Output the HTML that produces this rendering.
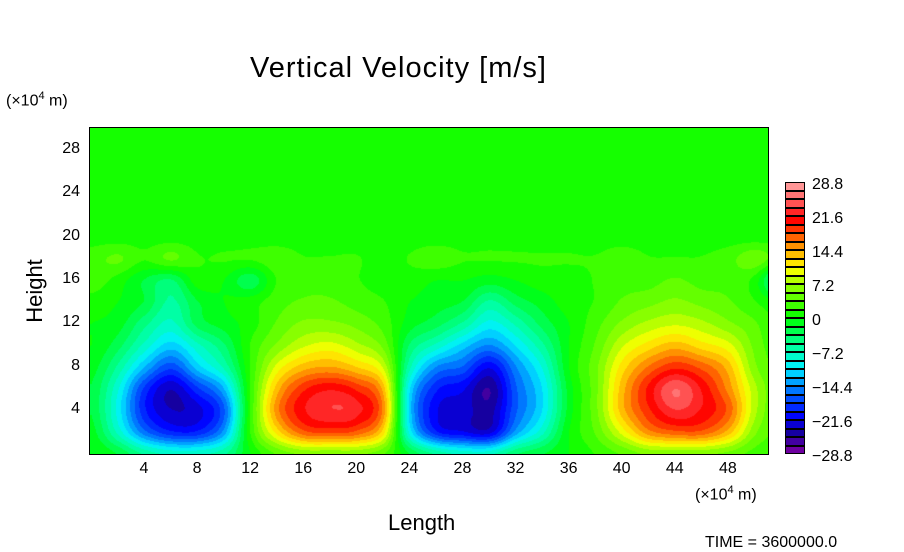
<!DOCTYPE html>
<html><head><meta charset="utf-8">
<style>
body{margin:0;background:#fff;width:904px;height:544px;overflow:hidden;position:relative;font-family:"Liberation Sans",sans-serif;}
.t{position:absolute;color:#000;white-space:nowrap;}
</style></head>
<body>
<div class="t" style="left:250px;top:52px;font-size:29px;letter-spacing:1px;">Vertical Velocity [m/s]</div>
<div class="t" style="left:6px;top:90px;font-size:16px;">(×10<sup style="font-size:11px">4</sup> m)</div>
<div class="t" style="left:2px;top:278px;font-size:22px;transform:rotate(-90deg);transform-origin:center;width:66px;text-align:center;">Height</div>
<div class="t" style="left:388px;top:510px;font-size:22px;">Length</div>
<div class="t" style="left:695px;top:484px;font-size:16px;">(×10<sup style="font-size:11px">4</sup> m)</div>
<div class="t" style="left:705px;top:534px;font-size:16px;">TIME = 3600000.0</div>
<canvas id="c" width="678" height="326" style="position:absolute;left:90px;top:128px;"></canvas>
<div style="position:absolute;left:89px;top:127px;width:678px;height:326px;border:1px solid #000;"></div>
<div id="ticks"></div>
<div id="cbar"></div>
<script>
const xTicks=[4,8,12,16,20,24,28,32,36,40,44,48];
const yTicks=[4,8,12,16,20,24,28];
const cbLabels=["28.8","21.6","14.4","7.2","0","\u22127.2","\u221214.4","\u221221.6","\u221228.8"];
const gridX=[0,2,4,6,8,10,12,14,16,18,20,22,24,26,28,30,32,34,36,38,40,42,44,46,48,50,52];
const gridY=[0,2,4,6,8,10,12,14,16,18,20,22,24,26,28,30];
const row0=[0,-2,-6,-8,-8,-6,0,4,6,6,6,4,-2,-6,-8,-8,-4,-2,0,2,4,6,6,6,5,3,2];
const row2=[-1,-8,-16,-20,-20,-14,2,12,18,19,18,12,-10,-20,-22,-23,-14,-8,0,4,10,16,18,18,14,6,3];
const row4=[-2,-10,-20,-24,-23,-17,2,16,22,24,23,16,-12,-22,-23,-25,-17,-11,-1,5,14,20,24,22,18,8,3];
const row6=[-2,-9,-19,-24,-19,-13,2,14,20,22,20,14,-11,-20,-22,-26,-17,-11,-1,5,14,21,26,22,16,8,3];
const row8=[-1,-6,-13,-18,-12,-7,2,10,14,15,13,9,-7,-15,-17,-22,-15,-9,0,5,12,17,20,18,14,6,3];
const row10=[0,-3,-8,-12,-8,-4,2,6,9,10,8,5,-4,-8,-12,-15,-11,-6,0,4,9,12,14,12,10,5,2];
const row12=[0,-1,-5,-8,-3,-1,1,4,6,6,5,3,-1,-3,-6,-10,-7,-3,0,3,6,8,9,8,6,4,1];
const row14=[1,0,-2,-6,-2,0,1,3,4,4,3,2,0,-1,-2,-6,-3,-1,1,2,4,5,6,5,4,2,0];
const row16=[3,1,-2,-4,1,0,-3,2,3,3,2,1,1,0,0,-1,0,1,1,2,3,3,4,3,3,1,-8];
const row18=[3,4,2,4,2,2,2,3,2,2,2,1,2,3,2,2,2,2,2,2,3,2,2,2,3,5,2];
const row20=[1,1,1,1,1,1,1,1,1,1,1,1,1,1,1,1,1,1,1,1,1,1,1,1,1,1,1];
const rows=[row0,row2,row4,row6,row8,row10,row12,row14,row16,row18,row20,row20,row20,row20,row20,row20];

const X0=90.9,PXU=13.27,Y0=453.3,PYU=10.83;
const sx=v=>X0+v*PXU, sy=v=>Y0-v*PYU;
const stops=[[-28.8,110,0,160],[-25,20,0,160],[-21.6,0,0,255],[-18,0,70,255],[-14.4,0,150,255],[-10.8,0,240,255],[-7.2,0,255,180],[-3.6,0,255,100],[0,0,255,0],[3.6,80,255,0],[7.2,150,255,0],[10.8,255,255,0],[14.4,255,180,0],[18,255,90,0],[21.6,255,0,0],[25,255,80,80],[28.8,255,150,150]];
function col(v){v=Math.max(-28.8,Math.min(28.8,v));for(let i=1;i<stops.length;i++){if(v<=stops[i][0]){const a=stops[i-1],b=stops[i],t=(v-a[0])/(b[0]-a[0]);return [a[1]+(b[1]-a[1])*t,a[2]+(b[2]-a[2])*t,a[3]+(b[3]-a[3])*t];}}return [255,150,150];}
const STEP=57.6/31;
function q(v){const k=Math.round((v+28.8)/STEP);return -28.8+k*STEP;}
const NX=gridX.length,NY=gridY.length;
function g(j,i){j=Math.max(0,Math.min(NY-1,j));i=Math.max(0,Math.min(NX-1,i));return rows[j][i];}
function cr(p0,p1,p2,p3,t){return 0.5*((2*p1)+(-p0+p2)*t+(2*p0-5*p1+4*p2-p3)*t*t+(-p0+3*p1-3*p2+p3)*t*t*t);}
function field(x,y){
  const gx=Math.max(0,Math.min(NX-1.001,x/2)),gy=Math.max(0,Math.min(NY-1.001,y/2));
  const i=Math.floor(gx),j=Math.floor(gy),u=gx-i,w=gy-j;
  const r=[];for(let k=-1;k<=2;k++){r.push(cr(g(j+k,i-1),g(j+k,i),g(j+k,i+1),g(j+k,i+2),u));}
  return cr(r[0],r[1],r[2],r[3],w);
}
const cv=document.getElementById('c'),ctx=cv.getContext('2d');
const img=ctx.createImageData(678,326);
for(let py=0;py<326;py++){for(let px=0;px<678;px++){
  const x=(px+90-X0)/PXU,y=(Y0-(py+128))/PYU;
  const c=col(q(field(x,y)));const o=(py*678+px)*4;
  img.data[o]=c[0];img.data[o+1]=c[1];img.data[o+2]=c[2];img.data[o+3]=255;}}
ctx.putImageData(img,0,0);

const tk=document.getElementById('ticks');
xTicks.forEach(v=>{const d=document.createElement('div');


d.className='t';d.style.cssText=`left:${sx(v)-20}px;top:460px;width:40px;text-align:center;font-size:16px;`;d.textContent=v;tk.appendChild(d);});
yTicks.forEach(v=>{const d=document.createElement('div');


d.className='t';d.style.cssText=`left:40px;top:${sy(v)-10}px;width:40px;text-align:right;font-size:16px;`;d.textContent=v;tk.appendChild(d);});

const cb=document.getElementById('cbar');
const BH=8.5;
for(let i=0;i<32;i++){const v=28.8-i*STEP;const c=col(v);const d=document.createElement('div');


d.style.cssText=`position:absolute;left:785px;top:${182+i*BH}px;width:18px;border:1px solid #000;background:rgb(${c.map(Math.round).join(',')});box-sizing:content-box;`;
d.style.height=(BH-2)+'px';cb.appendChild(d);}
cbLabels.forEach((s,k)=>{const d=document.createElement('div');


d.className='t';d.style.cssText=`left:812px;top:${182+(k*4+0.5)*BH-10}px;font-size:16px;`;d.textContent=s;cb.appendChild(d);});
</script>
</body></html>
